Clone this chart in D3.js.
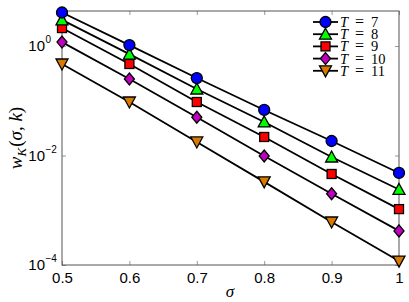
<!DOCTYPE html>
<html>
<head>
<meta charset="utf-8">
<script src="https://cdn.jsdelivr.net/npm/d3@7"></script>
<style>
  body { margin: 0; background: #fff; }
  svg { display: block; }
</style>
</head>
<body>
<div id="chart"></div>
<script>
// data
const sigma = [0.5, 0.6, 0.7, 0.8, 0.9, 1.0];
const seriesNames = ["7", "8", "9", "10", "11"];
const wT7  = [4.1, 1.04, 0.26, 0.068, 0.0184, 0.0048];
const wT8  = [3.0, 0.71, 0.164, 0.041, 0.0094, 0.0024];
const wT9  = [2.13, 0.47, 0.095, 0.0218, 0.0046, 0.00105];
const wT10 = [1.18, 0.25, 0.050, 0.0098, 0.0020, 0.00042];
const wT11 = [0.47, 0.095, 0.0177, 0.0033, 0.00061, 0.000118];
const xTicks = [0.5, 0.6, 0.7, 0.8, 0.9, 1];
const yTickExps = [-4, -2, 0];

const allSeries = [wT7, wT8, wT9, wT10, wT11];
const colors = ["#0000ff", "#00ff00", "#ff0000", "#bf00bf", "#d97a00"];
const symbols = ["circle", "up", "square", "diamond", "down"];

const width = 409, height = 302;
const mLeft = 62, mRight = 399, mTop = 11, mBottom = 265;

const svg = d3.select("#chart").append("svg")
  .attr("width", width)
  .attr("height", height);

const x = d3.scaleLinear().domain([0.5, 1]).range([mLeft, mRight]);
const y = d3.scaleLog().domain([1e-4, Math.pow(10, 0.64)]).range([mBottom, mTop]);

const frameColor = "#555";

// axes with inward ticks (box on)
const gx = svg.append("g")
  .attr("transform", "translate(0," + mBottom + ")")
  .call(d3.axisBottom(x).tickValues(xTicks).tickSize(-4).tickPadding(7).tickFormat(d3.format("")));
svg.append("g")
  .attr("transform", "translate(0," + mTop + ")")
  .call(d3.axisTop(x).tickValues(xTicks).tickSize(-4).tickFormat(""));
svg.append("g")
  .attr("transform", "translate(" + mLeft + ",0)")
  .call(d3.axisLeft(y).tickValues(yTickExps.map(e => Math.pow(10, e))).tickSize(-4).tickFormat(""));
svg.append("g")
  .attr("transform", "translate(" + mRight + ",0)")
  .call(d3.axisRight(y).tickValues(yTickExps.map(e => Math.pow(10, e))).tickSize(-4).tickFormat(""));

svg.selectAll(".domain").remove();
svg.selectAll(".tick line").attr("stroke", "#999");

svg.append("rect")
  .attr("x", mLeft).attr("y", mTop)
  .attr("width", mRight - mLeft).attr("height", mBottom - mTop)
  .attr("fill", "none")
  .attr("stroke", frameColor)
  .attr("stroke-width", 1);

gx.selectAll(".tick text")
  .attr("fill", "#000")
  .style("font-family", "Liberation Sans, Arial, sans-serif")
  .style("font-size", "15px");

// y tick labels 10^n
const yl = svg.append("g")
  .style("font-family", "Liberation Sans, Arial, sans-serif")
  .attr("fill", "#000");
yTickExps.forEach(e => {
  const yy = y(Math.pow(10, e));
  yl.append("text")
    .attr("x", 45).attr("y", yy + 5)
    .attr("text-anchor", "end")
    .style("font-size", "15px")
    .text("10");
  yl.append("text")
    .attr("x", 45.5).attr("y", yy - 3)
    .style("font-size", "10px")
    .text(e === 0 ? "0" : "\u2212" + Math.abs(e));
});

// lines
const line = d3.line()
  .x((d, i) => x(sigma[i]))
  .y(d => y(d));

svg.append("g").selectAll("path")
  .data(allSeries)
  .enter()
  .append("path")
  .attr("d", d => line(d))
  .attr("fill", "none")
  .attr("stroke", "#000")
  .attr("stroke-width", 1.8);

function marker(g, kind, cx, cy, color) {
  let el;
  if (kind === "circle") {
    el = g.append("circle").attr("cx", cx).attr("cy", cy).attr("r", 5.5);
  } else if (kind === "square") {
    el = g.append("rect").attr("x", cx - 4.5).attr("y", cy - 4.5).attr("width", 9).attr("height", 9);
  } else if (kind === "diamond") {
    el = g.append("path").attr("d", `M${cx},${cy - 6}L${cx + 5},${cy}L${cx},${cy + 6}L${cx - 5},${cy}Z`);
  } else if (kind === "up") {
    el = g.append("path").attr("d", `M${cx},${cy - 6}L${cx + 6},${cy + 5}L${cx - 6},${cy + 5}Z`);
  } else {
    el = g.append("path").attr("d", `M${cx - 6},${cy - 5}L${cx + 6},${cy - 5}L${cx},${cy + 6}Z`);
  }
  el.attr("fill", color).attr("stroke", "#000").attr("stroke-width", 1.3);
}

// markers, drawn last series first so T=7 is on top
const gm = svg.append("g");
for (let s = allSeries.length - 1; s >= 0; s--) {
  allSeries[s].forEach((v, i) => marker(gm, symbols[s], x(sigma[i]), y(v), colors[s]));
}

// legend
const lg = svg.append("g")
  .style("font-family", "Liberation Serif, serif")
  .style("font-size", "14.5px");
seriesNames.forEach((name, i) => {
  const ly = 22 + i * 12.2;
  lg.append("line")
    .attr("x1", 313).attr("x2", 338)
    .attr("y1", ly).attr("y2", ly)
    .attr("stroke", "#000").attr("stroke-width", 1.8);
  marker(lg, symbols[i], 325.5, ly, colors[i]);
  const t = lg.append("text").attr("y", ly + 5);
  t.append("tspan").attr("x", 340).style("font-style", "italic").text("T");
  t.append("tspan").attr("x", 355).style("font-size", "16px").text("=");
  t.append("tspan").attr("x", 371).text(name);
});

// axis labels
svg.append("text")
  .attr("x", 230).attr("y", 297)
  .attr("text-anchor", "middle")
  .style("font-family", "Liberation Serif, serif")
  .style("font-style", "italic")
  .style("font-size", "17px")
  .text("\u03c3");

const ylab = svg.append("text")
  .attr("transform", "translate(22,138) rotate(-90)")
  .attr("text-anchor", "middle")
  .style("font-family", "Liberation Serif, serif")
  .style("font-size", "19px");
ylab.append("tspan").style("font-style", "italic").text("w");
ylab.append("tspan").style("font-style", "italic").style("font-size", "13px").attr("dy", 4).text("K");
ylab.append("tspan").attr("dy", -4).attr("dx", 1).text("(");
ylab.append("tspan").style("font-style", "italic").text("\u03c3");
ylab.append("tspan").text(", ");
ylab.append("tspan").style("font-style", "italic").text("k");
ylab.append("tspan").text(")");
</script>
</body>
</html>
